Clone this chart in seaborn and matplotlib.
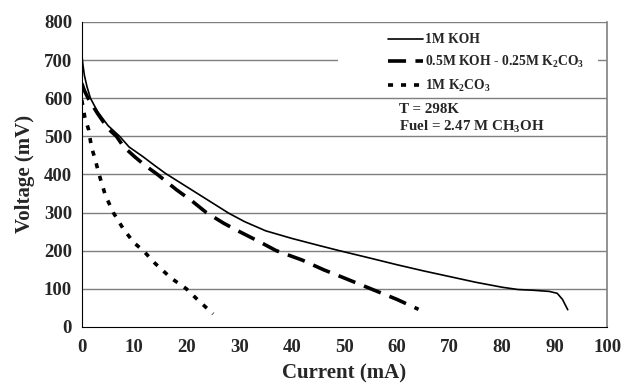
import numpy as np
import pandas as pd
import matplotlib
matplotlib.use('Agg')
import matplotlib.pyplot as plt
import seaborn as sns

# current (mA) / voltage (mV)
koh_i = [0, 0.2, 0.5, 1.0, 1.65, 3, 5, 7.2, 9, 11.7, 14, 16, 19, 22, 25, 28, 31, 35, 40, 45, 49, 55, 60, 65, 70, 75, 80, 83, 86, 89, 90.5, 91.5, 92.5]
koh_v = [717, 690, 660, 630, 600, 565, 528, 500, 472, 446, 422, 402, 376, 350, 324, 298, 276, 252, 232, 214, 200, 180, 163, 147, 132, 117, 104, 98, 96, 93, 88, 72, 45]
mix_i = [0, 0.5, 1.2, 3, 5, 6.6, 8, 10.1, 12, 14.4, 18, 21, 23.7, 27, 30, 34, 37, 42, 46, 50, 55, 60, 64.1]
mix_v = [639, 620, 600, 560, 520, 500, 472, 446, 424, 400, 360, 330, 300, 272, 250, 222, 200, 175, 150, 128, 100, 72, 46]
k2co3_i = [0, 0.57, 1.33, 1.84, 2.5, 3.3, 4.5, 6.0, 8, 10, 11.7, 14, 17, 19.9, 22, 25.0]
k2co3_v = [595, 551, 516, 472, 442, 400, 345, 300, 255, 220, 200, 166, 128, 100, 72, 34]

labels = ['1M KOH', '0.5M KOH - 0.25M K$_2$CO$_3$', '1M K$_2$CO$_3$']

sns.set_style('white')
plt.rcParams['font.family'] = ['Liberation Serif', 'DejaVu Serif']
plt.rcParams['font.weight'] = 'bold'
plt.rcParams['mathtext.fontset'] = 'custom'
plt.rcParams['mathtext.rm'] = 'Liberation Serif:bold'
plt.rcParams['mathtext.it'] = 'Liberation Serif:bold'
plt.rcParams['mathtext.bf'] = 'Liberation Serif:bold'
plt.rcParams['mathtext.default'] = 'rm'

fig = plt.figure(figsize=(6.24, 3.91), dpi=100)
ax = fig.add_axes([0.131, 0.164, 0.842, 0.780])

ax.grid(False)
for v in range(100, 900, 100):
    ax.axhline(v, color='#7f7f7f', lw=1.0, zorder=0)

# white box behind the legend, hides part of the 700 gridline
ax.add_patch(plt.Rectangle((0.488, 0.770), 0.495, 0.21, transform=ax.transAxes,
                           facecolor='white', edgecolor='none', zorder=1))

sns.lineplot(x=koh_i, y=koh_v, sort=False, estimator=None, color='black', lw=1.2, ax=ax, label=labels[0])
l2 = sns.lineplot(x=mix_i, y=mix_v, sort=False, estimator=None, color='black', lw=2.6, ax=ax, label=labels[1]).lines[-1]
l2.set_dashes([5, 2.6])
l3 = sns.lineplot(x=k2co3_i, y=k2co3_v, sort=False, estimator=None, color='black', lw=2.6, ax=ax, label=labels[2]).lines[-1]
l3.set_dashes([1.4, 2.2])

ax.set_xlim(0, 100)
ax.set_ylim(0, 800)
ax.set_xticks(range(0, 101, 10))
ax.set_yticks(range(0, 801, 100))
ax.tick_params(axis='both', labelsize=13.5, length=4, width=1, direction='out', color='black')
ax.tick_params(axis='x', pad=5)
ax.tick_params(axis='y', pad=3)
for t in ax.get_xticklabels() + ax.get_yticklabels():
    t.set_fontweight('bold')

ax.spines['left'].set_color('black')
ax.spines['bottom'].set_color('black')
ax.spines['top'].set_visible(False)
ax.spines['right'].set_color('#7f7f7f')
ax.spines['right'].set_linewidth(1.2)

ax.set_xlabel('Current (mA)', fontsize=15, fontweight='bold', labelpad=5)
ax.set_ylabel('Voltage (mV)', fontsize=15, fontweight='bold', labelpad=6)

leg = ax.legend(loc='upper left', bbox_to_anchor=(0.583, 0.962), frameon=False,
                fontsize=9.8, handlelength=2.6, handletextpad=0.1, labelspacing=0.55,
                borderpad=0, borderaxespad=0)
leg.set_zorder(5)

ax.text(0.604, 0.713, 'T = 298K', transform=ax.transAxes, fontsize=10.8, fontweight='bold', va='center')
ax.text(0.604, 0.655, 'Fuel = 2.47 M CH$_3$OH', transform=ax.transAxes, fontsize=10.8, fontweight='bold', va='center')

fig.savefig('out.png', dpi=100, facecolor='white')
